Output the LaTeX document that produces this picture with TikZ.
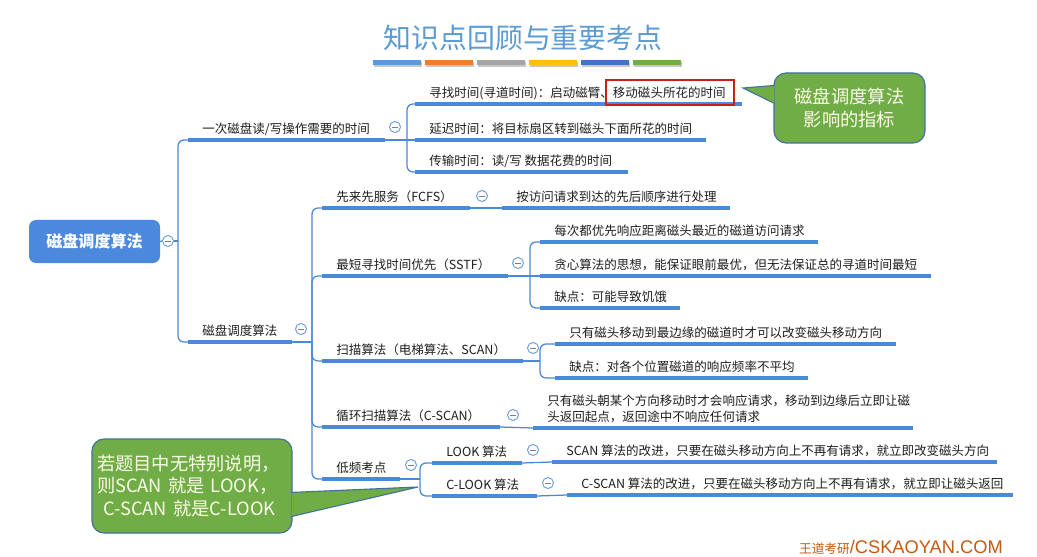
\documentclass[tikz,border=0pt]{standalone}
\usepackage{fontspec}
\setmainfont{Noto Sans CJK SC}
\newfontfamily\liber{Liberation Sans}
\usepackage{xcolor}
\usepackage{tikz}

\newlength\pxu
\setlength\pxu{0.025cm}

\definecolor{linkblue}{RGB}{74,136,218}
\definecolor{rootblue}{RGB}{74,137,220}
\definecolor{foldblue}{RGB}{110,160,225}
\definecolor{notegreen}{RGB}{112,173,71}
\definecolor{noteedge}{RGB}{65,113,156}
\definecolor{notetext}{RGB}{252,252,232}
\definecolor{titleblue}{RGB}{91,155,213}
\definecolor{hlred}{RGB}{200,30,30}
\definecolor{sitebrown}{RGB}{197,90,17}
\definecolor{barA}{RGB}{91,155,213}
\definecolor{barB}{RGB}{237,125,49}
\definecolor{barC}{RGB}{165,165,165}
\definecolor{barD}{RGB}{255,192,0}
\definecolor{barE}{RGB}{68,114,196}
\definecolor{barF}{RGB}{112,173,71}

\tikzset{
  topic/.style={anchor=south west, inner xsep=14\pxu, inner ysep=4\pxu, text depth=0.15em,
    font=\fontsize{8.9}{11.3}\selectfont, text=black!88},
  uline/.style={line width=2.2pt, draw=linkblue},
  link/.style={line width=0.9pt, draw=linkblue, rounded corners=6\pxu},
  fold/.style={circle, draw=foldblue, line width=0.7pt, fill=white, minimum size=11\pxu, inner sep=0pt,
    path picture={\draw[black!50, line width=0.6pt] ([xshift=2.1pt]path picture bounding box.west)
      -- ([xshift=-2.1pt]path picture bounding box.east);}},
  rootbox/.style={rounded corners=7\pxu, fill=rootblue, text=white, minimum width=131\pxu,
    minimum height=43\pxu, font=\fontsize{11.4}{13}\selectfont\bfseries},
  note/.style={rounded corners=12\pxu, fill=notegreen, draw=noteedge, line width=0.8pt, text=notetext,
    font=\fontsize{13}{16.3}\selectfont},
}

\begin{document}
\begin{tikzpicture}[x=1\pxu, y=-1\pxu]
  \useasboundingbox (0,0) rectangle (1037,557);
  \fill[white] (0,0) rectangle (1037,557);

  % Title and colour bars
  \node[font=\fontsize{19.8}{22}\selectfont, text=titleblue] (title) at (523,38) {知识点回顾与重要考点};
  \foreach \c [count=\i from 0] in {barA,barB,barC,barD,barE,barF} {
    \fill[black!22] (374+52*\i,62) rectangle ++(48,5);
    \fill[\c] (373+52*\i,60) rectangle ++(48,5);
  }

  % Root
  \node[rootbox] (root) at (94.5,241.5) {磁盘调度算法};
  \node[fold] (f-root) at (168,241) {};
  \draw[link] (root.east) -- (f-root.west);
  \draw[link] (f-root.east) -- ++(4,0) coordinate (j-root);

  % First level
  \node[topic] (read) at (188,140) {一次磁盘读/写操作需要的时间};
  \draw[uline] (read.south west) -- ++(197,0) coordinate (read-e);
  \node[topic] (sched) at (188,342) {磁盘调度算法};
  \draw[uline] (sched.south west) -- ++(104,0) coordinate (sched-e);
  \draw[link] (j-root) |- (read.south west);
  \draw[link] (j-root) |- (sched.south west);

  % Time of one read/write
  \node[fold] (f-read) at ([shift={(10,-13)}]read-e) {};
  \draw[link] (read-e) -- ++(22,0) coordinate (j-read);
  \node[topic] (seek) at (415,104) {寻找时间(寻道时间)：启动磁臂、移动磁头所花的时间};
  \draw[uline] (seek.south west) -- ++(327,0);
  \node[topic] (rot) at (415,140) {延迟时间：将目标扇区转到磁头下面所花的时间};
  \draw[uline] (rot.south west) -- ++(291,0);
  \node[topic] (xfer) at (415,172) {传输时间：读/写 数据花费的时间};
  \draw[uline] (xfer.south west) -- ++(213,0);
  \draw[link] (j-read) |- (seek.south west);
  \draw[link] (j-read) -- (rot.south west);
  \draw[link] (j-read) |- (xfer.south west);
  \draw[hlred, line width=1pt] (606,80) rectangle (734,105);

  % Algorithms
  \node[fold] (f-sched) at ([shift={(9,-13)}]sched-e) {};
  \draw[link] (sched-e) -- ++(20,0) coordinate (j-sched);
  \node[topic] (fcfs) at (322,208) {先来先服务（FCFS）};
  \draw[uline] (fcfs.south west) -- ++(148,0) coordinate (fcfs-e);
  \node[topic] (sstf) at (322,276) {最短寻找时间优先（SSTF）};
  \draw[uline] (sstf.south west) -- ++(186,0) coordinate (sstf-e);
  \node[topic] (scan) at (322,361) {扫描算法（电梯算法、SCAN）};
  \draw[uline] (scan.south west) -- ++(201,0) coordinate (scan-e);
  \node[topic] (cscan) at (322,427) {循环扫描算法（C-SCAN）};
  \draw[uline] (cscan.south west) -- ++(178,0) coordinate (cscan-e);
  \node[topic] (rare) at (322,479) {低频考点};
  \draw[uline] (rare.south west) -- ++(78,0) coordinate (rare-e);
  \foreach \n in {fcfs,sstf,scan,cscan,rare}
    \draw[link] (j-sched) |- (\n.south west);

  % FCFS
  \node[fold] (f-fcfs) at ([shift={(12,-12)}]fcfs-e) {};
  \node[topic] (fcfs-d) at (502,208) {按访问请求到达的先后顺序进行处理};
  \draw[uline] (fcfs-d.south west) -- ++(228,0);
  \draw[link] (fcfs-e) -- (fcfs-d.south west);

  % SSTF
  \node[fold] (f-sstf) at ([shift={(10,-13)}]sstf-e) {};
  \draw[link] (sstf-e) -- ++(22,0) coordinate (j-sstf);
  \node[topic] (sstf-a) at (540,242) {每次都优先响应距离磁头最近的磁道访问请求};
  \draw[uline] (sstf-a.south west) -- ++(278,0);
  \node[topic] (sstf-b) at (540,276) {贪心算法的思想，能保证眼前最优，但无法保证总的寻道时间最短};
  \draw[uline] (sstf-b.south west) -- ++(391,0);
  \node[topic] (sstf-c) at (540,308) {缺点：可能导致饥饿};
  \draw[uline] (sstf-c.south west) -- ++(140,0);
  \draw[link] (j-sstf) |- (sstf-a.south west);
  \draw[link] (j-sstf) -- (sstf-b.south west);
  \draw[link] (j-sstf) |- (sstf-c.south west);

  % SCAN
  \node[fold] (f-scan) at ([shift={(10,-13)}]scan-e) {};
  \draw[link] (scan-e) -- ++(17,0) coordinate (j-scan);
  \node[topic] (scan-a) at (555,344) {只有磁头移动到最边缘的磁道时才可以改变磁头移动方向};
  \draw[uline] (scan-a.south west) -- ++(341,0);
  \node[topic] (scan-b) at (555,378) {缺点：对各个位置磁道的响应频率不平均};
  \draw[uline] (scan-b.south west) -- ++(253,0);
  \draw[link] (j-scan) |- (scan-a.south west);
  \draw[link] (j-scan) |- (scan-b.south west);

  % C-SCAN
  \node[fold] (f-cscan) at ([shift={(13,-12)}]cscan-e) {};
  \node[topic, align=left] (cscan-d) at (533,428)
    {只有磁头朝某个方向移动时才会响应请求，移动到边缘后立即让磁\\头返回起点，返回途中不响应任何请求};
  \draw[uline] (cscan-d.south west) -- ++(380,0);
  \draw[link] (cscan-e) -- (cscan-d.south west);

  % Rarely tested
  \node[fold] (f-rare) at ([shift={(11,-14)}]rare-e) {};
  \draw[link] (rare-e) -- ++(20,0) coordinate (j-rare);
  \node[topic] (look) at (432,463) {LOOK 算法};
  \draw[uline] (look.south west) -- ++(90,0) coordinate (look-e);
  \node[topic] (clook) at (432,496) {C-LOOK 算法};
  \draw[uline] (clook.south west) -- ++(105,0) coordinate (clook-e);
  \draw[link] (j-rare) |- (look.south west);
  \draw[link] (j-rare) |- (clook.south west);

  \node[fold] (f-look) at ([shift={(11,-13)}]look-e) {};
  \node[topic] (look-d) at (552,462) {SCAN 算法的改进，只要在磁头移动方向上不再有请求，就立即改变磁头方向};
  \draw[uline] (look-d.south west) -- ++(445,0);
  \draw[link] (look-e) -- (look-d.south west);

  \node[fold] (f-clook) at ([shift={(11,-13)}]clook-e) {};
  \node[topic] (clook-d) at (567,495) {C-SCAN 算法的改进，只要在磁头移动方向上不再有请求，就立即让磁头返回};
  \draw[uline] (clook-d.south west) -- ++(446,0);
  \draw[link] (clook-e) -- (clook-d.south west);

  % Notes
  \node[note, minimum width=151\pxu, minimum height=70\pxu, align=center] (note1) at (849.5,108)
    {磁盘调度算法\\影响的指标};
  \coordinate (tip1) at (743,88);
  \fill[notegreen] ([shift={(1,13)}]note1.north west) -- (tip1) -- ([shift={(1,31)}]note1.north west) -- cycle;
  \draw[noteedge, line width=0.8pt] ([shift={(1,13)}]note1.north west) -- (tip1) -- ([shift={(1,31)}]note1.north west);

  \node[note, minimum width=200\pxu, minimum height=94\pxu, text width=190\pxu, inner xsep=5\pxu, align=left]
    (note2) at (192,486) {若题目中无特别说明，\\则SCAN 就是 LOOK，\\\hspace*{6\pxu}C-SCAN 就是C-LOOK};
  \coordinate (tip2) at (418,487);
  \fill[notegreen] ([shift={(-1,54)}]note2.north east) -- (tip2) -- ([shift={(-1,78)}]note2.north east) -- cycle;
  \draw[noteedge, line width=0.8pt] ([shift={(-1,54)}]note2.north east) -- (tip2) -- ([shift={(-1,78)}]note2.north east);

  % Footer
  \node[text=sitebrown] (site) at (901,547)
    {{\fontsize{9}{11}\selectfont 王道考研}{\liber\fontsize{13}{15}\selectfont /CSKAOYAN.COM}};
\end{tikzpicture}
\end{document}
